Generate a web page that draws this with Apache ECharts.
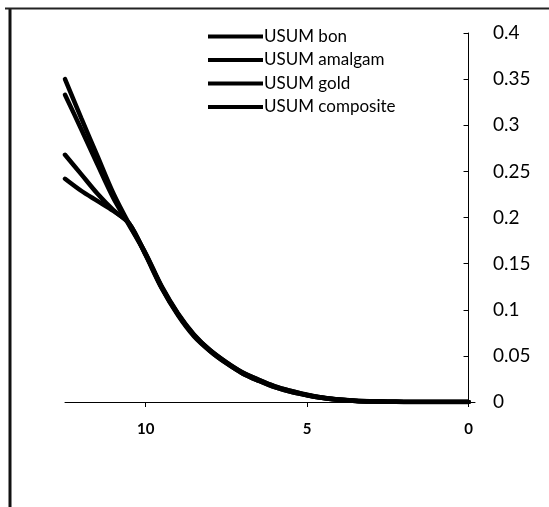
<!DOCTYPE html>
<html>
<head>
<meta charset="utf-8">
<script src="https://cdn.jsdelivr.net/npm/echarts@6/dist/echarts.min.js"></script>
<style>html,body{margin:0;padding:0;background:#fff;}#c{width:549px;height:507px;}</style>
</head>
<body>
<div id="c"></div>
<script>
var xValues = [12.5, 12, 11.5, 11, 10.5, 10, 9.5, 9, 8.5, 8, 7.5, 7, 6.5, 6, 5.5, 5, 4.5, 4, 3.5, 3, 2.5, 2, 1.5, 1, 0.5, 0];
var seriesNames = ['USUM bon', 'USUM amalgam', 'USUM gold', 'USUM composite'];
var usumBon       = [0.350, 0.308, 0.267, 0.226, 0.192, 0.161, 0.125, 0.096, 0.073, 0.056, 0.043, 0.032, 0.024, 0.017, 0.012, 0.0078, 0.0046, 0.0026, 0.0014, 0.0007, 0.0003, 0.0001, 0, 0, 0, 0];
var usumAmalgam   = [0.333, 0.296, 0.258, 0.221, 0.191, 0.160, 0.124, 0.095, 0.072, 0.055, 0.042, 0.031, 0.023, 0.016, 0.011, 0.0073, 0.0043, 0.0024, 0.0012, 0.0006, 0.0003, 0.0001, 0, 0, 0, 0];
var usumGold      = [0.268, 0.247, 0.226, 0.208, 0.193, 0.160, 0.124, 0.095, 0.072, 0.056, 0.043, 0.032, 0.024, 0.017, 0.012, 0.0076, 0.0045, 0.0025, 0.0013, 0.0007, 0.0003, 0.0001, 0, 0, 0, 0];
var usumComposite = [0.242, 0.229, 0.218, 0.207, 0.193, 0.159, 0.123, 0.094, 0.071, 0.055, 0.042, 0.031, 0.023, 0.016, 0.011, 0.0074, 0.0044, 0.0024, 0.0012, 0.0006, 0.0003, 0.0001, 0, 0, 0, 0];
var xTickValues = [0, 5, 10];
var yTickLabels = ['0', '0.05', '0.1', '0.15', '0.2', '0.25', '0.3', '0.35', '0.4'];

var allSeries = [usumBon, usumAmalgam, usumGold, usumComposite];
var font = 'Lato, "Open Sans", sans-serif';

function pairs(arr) {
  return xValues.map(function (x, i) { return [x, arr[i]]; });
}

var chart = echarts.init(document.getElementById('c'), null, {renderer: 'canvas'});
chart.setOption({
  animation: false,
  backgroundColor: '#ffffff',
  grid: {left: 65, right: 74, top: 33, bottom: 105, containLabel: false},
  legend: {
    orient: 'vertical',
    left: 208,
    top: 27,
    padding: 0,
    icon: 'rect',
    itemWidth: 55,
    itemHeight: 4,
    itemGap: 4.5,
    textStyle: {fontFamily: font, fontSize: 17, color: '#000', lineHeight: 19, padding: [0, 0, 0, -4]},
    data: seriesNames
  },
  xAxis: {
    type: 'value',
    inverse: true,
    min: -0.2,
    max: 12.5,
    splitLine: {show: false},
    axisLine: {show: true, onZero: false, lineStyle: {color: '#000', width: 1}},
    axisTick: {show: true, length: 5, inside: false, customValues: xTickValues, lineStyle: {color: '#000'}},
    axisLabel: {show: true, customValues: xTickValues, margin: 20, fontFamily: font, fontSize: 15, fontWeight: 'bold', color: '#000'}
  },
  yAxis: {
    type: 'value',
    position: 'right',
    min: 0,
    max: 0.4,
    interval: 0.05,
    splitLine: {show: false},
    axisLine: {show: true, onZero: true, lineStyle: {color: '#000', width: 1}},
    axisTick: {show: true, inside: true, length: 5, lineStyle: {color: '#000'}},
    axisLabel: {
      margin: 18,
      fontFamily: font,
      fontSize: 19,
      color: '#000',
      formatter: function (v) {
        var idx = Math.round(v / 0.05);
        return yTickLabels[idx] !== undefined ? yTickLabels[idx] : '';
      }
    }
  },
  graphic: [
    {type: 'line', shape: {x1: 10, y1: 8, x2: 10, y2: 507}, style: {stroke: '#111', lineWidth: 3}},
    {type: 'line', shape: {x1: 5, y1: 8.5, x2: 549, y2: 8.5}, style: {stroke: '#222', lineWidth: 2}}
  ],
  series: seriesNames.map(function (name, i) {
    return {
      name: name,
      type: 'line',
      data: pairs(allSeries[i]),
      smooth: 0.3,
      showSymbol: false,
      symbol: 'none',
      lineStyle: {color: '#000', width: 4.5, cap: 'round'},
      itemStyle: {color: '#000'}
    };
  })
});
</script>
</body>
</html>
